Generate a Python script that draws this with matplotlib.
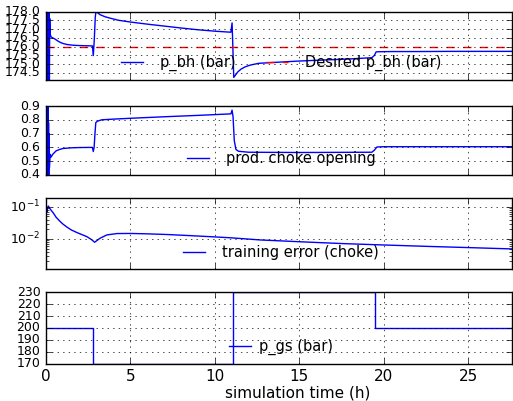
import numpy as np
import matplotlib
matplotlib.use('Agg')
import matplotlib.pyplot as plt
from matplotlib.ticker import FormatStrFormatter

plt.style.use('classic')
plt.rcParams['figure.facecolor'] = 'white'
plt.rcParams['savefig.facecolor'] = 'white'

T_END = 27.6

# bottom hole pressure (bar)
t_pbh = [0.0, 0.01, 0.02, 0.03, 0.04, 0.05, 0.06, 0.07, 0.08, 0.09, 0.10, 0.11, 0.12,
         0.13, 0.14, 0.15, 0.16, 0.18, 0.20, 0.22, 0.25, 0.3, 0.4, 0.55, 0.7, 0.85,
         1.0, 1.25, 1.6, 2.0, 2.4, 2.75, 2.8, 2.86, 2.92, 2.96, 3.2, 3.5, 3.8, 4.3,
         5.0, 6.0, 7.0, 8.0, 9.0, 10.0, 10.95, 11.02, 11.06, 11.12, 11.2, 11.35,
         11.55, 11.8, 12.1, 12.6, 13.5, 15.0, 16.5, 18.0, 19.3, 19.45, 19.55, 19.7,
         20.5, 22.0, 24.0, 26.0, T_END]
p_bh = [176.0, 178.3, 174.0, 178.3, 174.0, 178.3, 174.0, 178.3, 174.0, 178.3, 174.0,
        178.3, 174.0, 178.3, 174.0, 178.3, 174.0, 178.3, 174.0, 177.6, 176.7, 176.55,
        176.5, 176.42, 176.32, 176.24, 176.18, 176.12, 176.08, 176.06, 176.05,
        176.04, 175.49, 176.4, 177.7, 178.0, 177.82, 177.7, 177.62, 177.5, 177.4,
        177.28, 177.17, 177.06, 176.96, 176.88, 176.82, 177.35, 176.2, 174.25,
        174.35, 174.55, 174.72, 174.85, 174.95, 175.05, 175.1, 175.18, 175.24,
        175.3, 175.37, 175.5, 175.7, 175.71, 175.72, 175.72, 175.73, 175.73, 175.73]
t_ref = [0.0, T_END]
p_bh_ref = [176.0, 176.0]

# production choke opening
t_choke = [0.0, 0.01, 0.02, 0.03, 0.04, 0.05, 0.06, 0.07, 0.08, 0.09, 0.10, 0.11,
           0.12, 0.13, 0.14, 0.15, 0.16, 0.18, 0.20, 0.25, 0.3, 0.4, 0.6, 0.8, 1.0,
           1.5, 2.0, 2.75, 2.8, 2.85, 2.9, 2.95, 3.05, 3.3, 4.0, 5.0, 7.0, 9.0, 10.95,
           11.02, 11.08, 11.15, 11.25, 11.4, 12.0, 15.0, 19.3, 19.45, 19.6, 20.0, T_END]
choke = [0.6, 0.92, 0.38, 0.92, 0.38, 0.92, 0.38, 0.92, 0.38, 0.92, 0.38, 0.92, 0.38,
         0.92, 0.38, 0.78, 0.38, 0.7, 0.45, 0.55, 0.53, 0.55, 0.575, 0.585, 0.592,
         0.597, 0.599, 0.6, 0.57, 0.6, 0.7, 0.78, 0.79, 0.8, 0.805, 0.811, 0.822,
         0.832, 0.843, 0.87, 0.82, 0.65, 0.585, 0.572, 0.565, 0.563, 0.565, 0.58,
         0.603, 0.605, 0.605]

# training error (choke)
t_err = [0.0, 0.03, 0.06, 0.1, 0.14, 0.2, 0.3, 0.43, 0.6, 0.83, 1.0, 1.23, 1.5, 1.83,
         2.1, 2.42, 2.7, 2.88, 3.0, 3.2, 3.6, 4.2, 5.0, 6.0, 7.2, 8.5, 9.96, 11.0,
         12.7, 15.0, 17.5, 20.0, 22.5, 25.0, T_END]
err = [0.05, 0.09, 0.07, 0.095, 0.105, 0.092, 0.078, 0.064, 0.047, 0.035, 0.029,
       0.0235, 0.019, 0.0158, 0.0138, 0.0118, 0.0095, 0.0079, 0.0088, 0.0105, 0.0133,
       0.0147, 0.0148, 0.0144, 0.0137, 0.0127, 0.0116, 0.0108, 0.0093, 0.0082,
       0.0072, 0.0065, 0.0059, 0.0054, 0.0049]

# gas supply pressure (bar)
t_gs = [0.0, 2.8, 11.1, 19.48, T_END]
p_gs = [200, 170, 230, 200, 200]

fig = plt.figure(figsize=(5.13, 4.01), dpi=100)
W, H = 513.0, 401.0
left, right = 46, 512
boxes = [(11.5, 80), (106, 175), (198.3, 269), (292.3, 363.7)]
axes = [fig.add_axes([left / W, 1 - b / H, (right - left) / W, (b - t) / H]) for t, b in boxes]
ax1, ax2, ax3, ax4 = axes

ax1.plot(t_pbh, p_bh, 'b-', label='p_bh (bar)')
ax1.plot(t_ref, p_bh_ref, 'r--', label='Desired p_bh (bar)')
ax1.set_ylim(174.1, 178.0)
ax1.set_yticks(np.arange(174.5, 178.01, 0.5))
ax1.yaxis.set_major_formatter(FormatStrFormatter('%.1f'))

ax2.plot(t_choke, choke, 'b-', label='prod. choke opening')
ax2.set_ylim(0.4, 0.9)
ax2.set_yticks(np.arange(0.4, 0.91, 0.1))

ax3.semilogy(t_err, err, 'b-', label='training error (choke)')
ax3.set_ylim(1.17e-3, 0.182)

ax4.plot(t_gs, p_gs, 'b-', drawstyle='steps-post', label='p_gs (bar)')
ax4.set_ylim(170, 230)
ax4.set_yticks(range(170, 231, 10))
ax4.set_xlabel('simulation time (h)', fontsize=11)
ax4.xaxis.set_label_coords(0.54, -0.3)

pads = [0.86, 0.86, 0.86, 0.25]
for ax, pad in zip(axes, pads):
    ax.set_xlim(0, T_END)
    ax.set_xticks(range(0, 26, 5))
    ax.grid(True)
    ax.tick_params(axis='y', labelsize=9)
    ax.tick_params(axis='x', labelsize=11, pad=4)
    ax.legend(loc='lower center', ncol=2, frameon=False, fontsize=10.5,
              handlelength=2.1, handletextpad=pad, numpoints=2,
              borderaxespad=0.2, columnspacing=1.8)
    if ax is not ax4:
        ax.tick_params(axis='x', labelbottom=False)

fig.savefig('out.png', dpi=100)
